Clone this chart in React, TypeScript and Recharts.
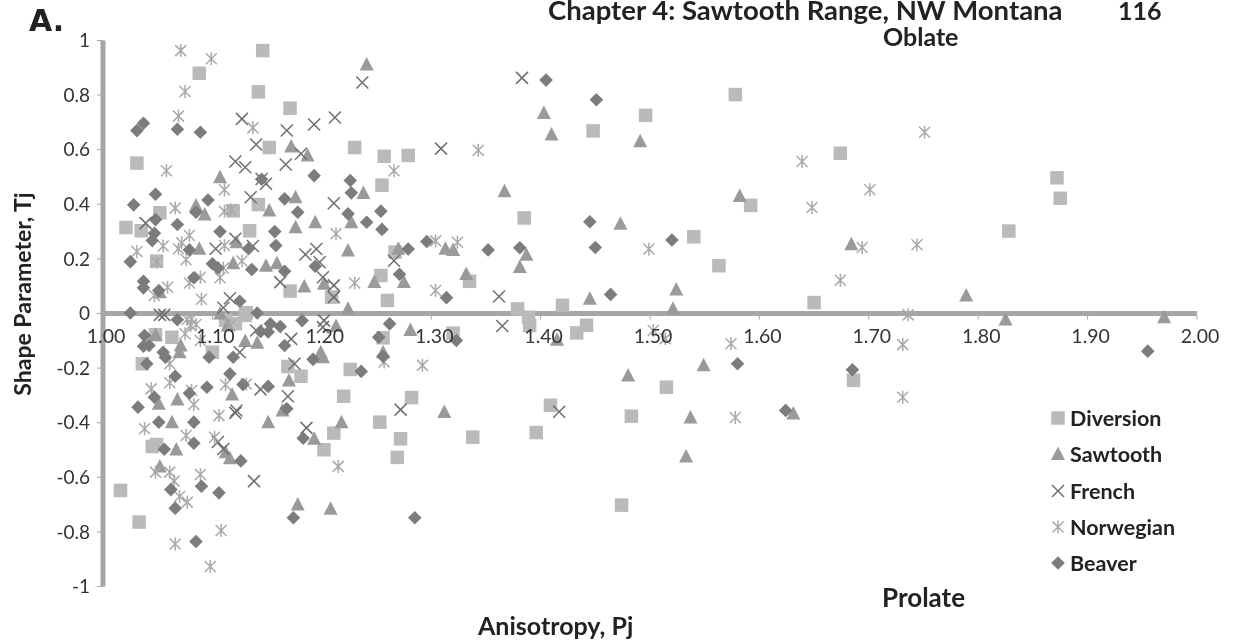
import React from "react";
import { ScatterChart, Scatter, XAxis, YAxis, ReferenceLine, Legend } from "recharts";

const xTicks = [1.0, 1.1, 1.2, 1.3, 1.4, 1.5, 1.6, 1.7, 1.8, 1.9, 2.0];
const yTicks = [1, 0.8, 0.6, 0.4, 0.2, 0, -0.2, -0.4, -0.6, -0.8, -1];

const diversion = [
  [1.146,.963],[1.088,.880],[1.142,.812],[1.171,.752],[1.152,.608],[1.031,.551],[1.230,.608],[1.257,.576],[1.255,.470],[1.142,.399],
  [1.052,.369],[1.119,.376],[1.021,.315],[1.035,.303],[1.134,.303],[1.049,.192],[1.254,.139],[1.171,.082],[1.209,.060],[1.260,.048],
  [1.131,.003],[1.279,.579],[1.385,.350],[1.335,.118],[1.379,.017],[1.389,-.014],[1.390,-.044],[1.420,.030],[1.448,.669],[1.496,.726],
  [1.578,.802],[1.674,.587],[1.592,.396],[1.540,.281],[1.563,.175],[1.650,.040],[1.872,.497],[1.875,.422],[1.828,.302],[1.442,-.043],
  [1.433,-.071],[1.320,-.072],[1.256,-.089],[1.515,-.270],[1.282,-.308],[1.409,-.336],[1.483,-.376],[1.253,-.398],[1.272,-.459],[1.338,-.453],
  [1.396,-.436],[1.269,-.527],[1.474,-.702],[1.686,-.245],[1.016,-.648],[1.033,-.764],[1.048,-.078],[1.063,-.087],[1.100,-.142],[1.036,-.184],
  [1.045,-.487],[1.049,-.480],[1.169,-.194],[1.181,-.230],[1.220,-.303],[1.226,-.205],[1.211,-.438],[1.202,-.499],[1.130,-.007],[1.121,-.037],
  [1.112,-.025],[1.267,.225],
];

const sawtooth = [
  [1.241,.912],[1.172,.612],[1.187,.579],[1.107,.499],[1.176,.426],[1.238,.441],[1.085,.396],[1.093,.363],[1.152,.377],[1.176,.316],
  [1.194,.334],[1.227,.334],[1.122,.261],[1.088,.237],[1.224,.231],[1.119,.184],[1.149,.175],[1.159,.184],[1.184,.099],[1.202,.109],
  [1.248,.115],[1.224,.017],[1.052,.078],[1.403,.734],[1.410,.656],[1.491,.631],[1.367,.448],[1.473,.329],[1.313,.237],[1.320,.233],
  [1.270,.237],[1.387,.215],[1.381,.170],[1.275,.115],[1.332,.145],[1.445,.054],[1.524,.088],[1.521,.017],[1.582,.430],[1.684,.254],
  [1.789,.066],[1.825,-.022],[1.970,-.014],[1.281,-.060],[1.415,-.096],[1.256,-.142],[1.480,-.227],[1.312,-.361],[1.549,-.190],[1.533,-.524],
  [1.537,-.381],[1.631,-.366],[1.048,-.079],[1.071,-.117],[1.070,-.142],[1.130,-.101],[1.141,-.107],[1.213,-.046],[1.199,-.142],[1.201,-.160],
  [1.170,-.245],[1.068,-.315],[1.051,-.331],[1.118,-.297],[1.063,-.398],[1.151,-.398],[1.164,-.355],[1.218,-.398],[1.193,-.459],[1.067,-.498],
  [1.112,-.508],[1.116,-.530],[1.052,-.560],[1.178,-.700],[1.208,-.715],[1.114,-.044],[1.107,0],
];

const french = [
  [1.237,.846],[1.212,.718],[1.127,.713],[1.168,.670],[1.193,.692],[1.140,.619],[1.121,.557],[1.130,.536],[1.167,.546],[1.181,.585],
  [1.149,.475],[1.145,.493],[1.135,.426],[1.211,.404],[1.039,.331],[1.121,.274],[1.103,.237],[1.137,.247],[1.185,.216],[1.195,.236],
  [1.198,.188],[1.201,.133],[1.211,.103],[1.211,.060],[1.162,.115],[1.116,.056],[1.110,.021],[1.383,.863],[1.309,.604],[1.266,.193],
  [1.362,.062],[1.365,-.046],[1.272,-.352],[1.417,-.360],[1.052,-.005],[1.056,-.005],[1.202,-.026],[1.201,-.050],[1.140,-.062],[1.172,-.093],
  [1.125,-.142],[1.175,-.184],[1.144,-.278],[1.169,-.303],[1.122,-.355],[1.121,-.364],[1.186,-.419],[1.105,-.471],[1.110,-.496],[1.138,-.614],
];

const norwegian = [
  [1.071,.963],[1.099,.933],[1.075,.813],[1.069,.723],[1.137,.680],[1.058,.523],[1.111,.453],[1.066,.386],[1.111,.374],[1.117,.380],
  [1.079,.286],[1.055,.247],[1.031,.227],[1.069,.237],[1.072,.259],[1.076,.197],[1.111,.249],[1.049,.188],[1.127,.192],[1.110,.167],
  [1.107,.131],[1.089,.133],[1.079,.112],[1.059,.096],[1.047,.066],[1.090,.052],[1.213,.292],[1.230,.112],[1.266,.523],[1.343,.598],
  [1.304,.266],[1.324,.261],[1.499,.236],[1.304,.084],[1.751,.664],[1.639,.557],[1.701,.453],[1.648,.388],[1.694,.242],[1.744,.252],
  [1.674,.122],[1.736,-.005],[1.731,-.114],[1.574,-.111],[1.731,-.307],[1.578,-.381],[1.503,-.062],[1.514,-.092],[1.257,-.178],[1.292,-.190],
  [1.075,-.074],[1.089,-.099],[1.081,-.019],[1.085,-.040],[1.077,-.022],[1.080,-.044],[1.116,-.044],[1.061,-.184],[1.061,-.254],[1.044,-.276],
  [1.081,-.282],[1.083,-.333],[1.112,-.261],[1.131,-.258],[1.106,-.374],[1.038,-.422],[1.076,-.447],[1.102,-.453],[1.048,-.581],[1.061,-.581],
  [1.089,-.590],[1.065,-.614],[1.070,-.670],[1.077,-.691],[1.215,-.560],[1.066,-.844],[1.108,-.795],[1.098,-.927],
];

const beaver = [
  [1.037,.697],[1.031,.670],[1.068,.675],[1.089,.664],[1.145,.492],[1.193,.505],[1.226,.487],[1.227,.442],[1.048,.437],[1.028,.398],
  [1.096,.416],[1.166,.420],[1.085,.371],[1.178,.371],[1.224,.365],[1.254,.375],[1.048,.344],[1.068,.326],[1.241,.334],[1.255,.308],
  [1.047,.294],[1.045,.267],[1.107,.300],[1.157,.300],[1.158,.249],[1.133,.237],[1.079,.233],[1.025,.190],[1.100,.182],[1.105,.167],
  [1.194,.173],[1.136,.161],[1.166,.155],[1.037,.118],[1.037,.094],[1.083,.131],[1.051,.084],[1.125,.045],[1.025,.002],[1.141,.002],
  [1.405,.855],[1.451,.783],[1.296,.264],[1.279,.236],[1.352,.233],[1.381,.241],[1.445,.336],[1.450,.242],[1.520,.269],[1.271,.144],
  [1.314,.058],[1.464,.070],[1.262,-.038],[1.323,-.099],[1.256,-.157],[1.285,-.748],[1.580,-.184],[1.685,-.206],[1.624,-.355],[1.955,-.138],
  [1.068,-.023],[1.182,-.026],[1.153,-.038],[1.162,-.048],[1.144,-.066],[1.151,-.068],[1.038,-.081],[1.037,-.120],[1.042,-.117],[1.055,-.142],
  [1.057,-.160],[1.166,-.117],[1.097,-.160],[1.119,-.160],[1.040,-.184],[1.192,-.168],[1.252,-.087],[1.236,-.212],[1.066,-.230],[1.116,-.221],
  [1.095,-.270],[1.128,-.260],[1.151,-.267],[1.079,-.292],[1.047,-.307],[1.032,-.343],[1.168,-.349],[1.051,-.398],[1.083,-.398],[1.183,-.457],
  [1.083,-.475],[1.056,-.497],[1.126,-.540],[1.062,-.645],[1.090,-.633],[1.106,-.657],[1.066,-.713],[1.085,-.835],[1.174,-.748],
];

const toRows = (pairs: number[][]) => pairs.map(([x, y]) => ({ x, y }));

const markerColors: Record<string, string> = {
  Diversion: "#bababa",
  Sawtooth: "#9a9a9a",
  French: "#6e6e6e",
  Norwegian: "#a9a9a9",
  Beaver: "#7c7c7c",
};

function Glyph({ kind, cx, cy }: { kind: string; cx: number; cy: number }) {
  const c = markerColors[kind];
  if (kind === "Diversion") return <rect x={cx - 6.75} y={cy - 6.75} width={13.5} height={13.5} fill={c} />;
  if (kind === "Sawtooth")
    return <path d={`M${cx} ${cy - 7.5}L${cx + 7} ${cy + 6}L${cx - 7} ${cy + 6}Z`} fill={c} />;
  if (kind === "French")
    return (
      <path
        d={`M${cx - 6} ${cy - 6}L${cx + 6} ${cy + 6}M${cx + 6} ${cy - 6}L${cx - 6} ${cy + 6}`}
        stroke={c}
        strokeWidth={1.5}
        fill="none"
      />
    );
  if (kind === "Norwegian")
    return (
      <path
        d={`M${cx - 5.5} ${cy - 5.5}L${cx + 5.5} ${cy + 5.5}M${cx + 5.5} ${cy - 5.5}L${cx - 5.5} ${cy + 5.5}M${cx} ${cy - 6.5}L${cx} ${cy + 6.5}`}
        stroke={c}
        strokeWidth={1.5}
        fill="none"
      />
    );
  return <path d={`M${cx} ${cy - 6.8}L${cx + 6.8} ${cy}L${cx} ${cy + 6.8}L${cx - 6.8} ${cy}Z`} fill={c} />;
}

const shapeFor = (kind: string) => (p: any) => <Glyph kind={kind} cx={p.cx} cy={p.cy} />;

const FONT = "Lato, 'Open Sans', sans-serif";

function XTick(p: any) {
  const { x, y, payload } = p;
  return (
    <g transform={`translate(${x},${y - 273})`}>
      <line x1={0} x2={0} y1={2} y2={6} stroke="#a6a6a6" strokeWidth={1} />
      <text x={3} y={29.5} textAnchor="middle" fontFamily={FONT} fontSize={19.5} fill="#333">
        {Number(payload.value).toFixed(2)}
      </text>
    </g>
  );
}

function LegendBox(p: any) {
  return (
    <div style={{ fontFamily: FONT, fontWeight: 700, fontSize: 21.5, color: "#222" }}>
      {(p.payload || []).map((e: any) => (
        <div key={e.value} style={{ display: "flex", alignItems: "center", height: 36.3 }}>
          <svg width={20} height={20} style={{ marginRight: 2 }}>
            <Glyph kind={e.value} cx={10} cy={10} />
          </svg>
          <span>{e.value}</span>
        </div>
      ))}
    </div>
  );
}

function Label(props: { text: string; left: number; cy: number; size?: number; family?: string; rotate?: boolean }) {
  const { text, left, cy, size = 25, family = FONT, rotate } = props;
  return (
    <div
      style={{
        position: "absolute",
        left,
        top: cy - 20,
        height: 40,
        lineHeight: "40px",
        fontFamily: family,
        fontWeight: 700,
        fontSize: size,
        color: "#222",
        whiteSpace: "nowrap",
        transform: rotate ? "translateX(-50%) rotate(-90deg)" : undefined,
      }}
    >
      {text}
    </div>
  );
}

export default function App() {
  return (
    <div style={{ position: "absolute", left: 0, top: 0, width: 1238, height: 644, background: "#fff", overflow: "hidden", filter: "blur(0.4px)" }}>
      <ScatterChart width={1238} height={644} margin={{ left: 102, right: 41, top: 40.5, bottom: 56.5 }}>
        <ReferenceLine y={0} stroke="#a6a6a6" strokeWidth={5} />
        <Scatter name="Diversion" data={toRows(diversion)} isAnimationActive={false} shape={shapeFor("Diversion")} />
        <Scatter name="Sawtooth" data={toRows(sawtooth)} isAnimationActive={false} shape={shapeFor("Sawtooth")} />
        <Scatter name="French" data={toRows(french)} isAnimationActive={false} shape={shapeFor("French")} />
        <Scatter name="Norwegian" data={toRows(norwegian)} isAnimationActive={false} shape={shapeFor("Norwegian")} />
        <Scatter name="Beaver" data={toRows(beaver)} isAnimationActive={false} shape={shapeFor("Beaver")} />
        <XAxis
          type="number"
          dataKey="x"
          domain={[1, 2]}
          ticks={xTicks}
          height={1}
          axisLine={false}
          tickLine={false}
          tickSize={0}
          tickMargin={0}
          interval={0}
          tick={<XTick />}
        />
        <YAxis
          type="number"
          dataKey="y"
          domain={[-1, 1]}
          ticks={yTicks}
          width={1}
          interval={0}
          axisLine={{ stroke: "#a6a6a6", strokeWidth: 5 }}
          tickLine={{ stroke: "#a6a6a6", strokeWidth: 1 }}
          tickSize={6}
          tickMargin={7}
          tick={{ fontFamily: FONT, fontSize: 19, fill: "#333" }}
        />
        <Legend
          layout="vertical"
          align="center"
          verticalAlign="middle"
          itemSorter={null}
          content={<LegendBox />}
          wrapperStyle={{ position: "absolute", left: 1048, top: 400, width: 170, margin: 0 }}
        />
      </ScatterChart>
      <Label text="A." left={29} cy={21} size={30} family="'DejaVu Sans', sans-serif" />
      <Label text="Chapter 4: Sawtooth Range, NW Montana" left={548} cy={10} size={27.5} />
      <Label text="116" left={1118} cy={10} size={25} />
      <Label text="Oblate" left={883} cy={36} />
      <Label text="Prolate" left={882} cy={597} size={26} />
      <Label text="Anisotropy, Pj" left={478} cy={625} />
      <Label text="Shape Parameter, Tj" left={22} cy={294} size={23} rotate />
    </div>
  );
}
